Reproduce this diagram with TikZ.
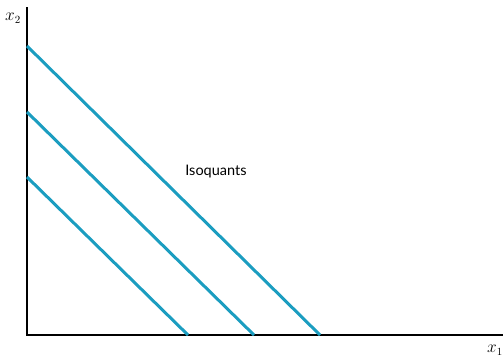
\documentclass[tikz,border=0pt]{standalone}
\usepackage{fontspec}
\setsansfont{Lato}
\usepackage{tikz}
\usetikzlibrary{positioning}
\definecolor{isoBlue}{HTML}{1B9DC0}

\begin{document}
\begin{tikzpicture}[x=1pt,y=-1pt,font=\sffamily]
  \tikzset{axisline/.style={draw=black,line width=1.8pt},
    isoline/.style={draw=isoBlue,line width=3pt},
    axlabel/.style={inner sep=0pt,font=\fontsize{16}{18}\selectfont}}
  \useasboundingbox (0,0) rectangle (503,357);
  % axes
  \coordinate (origin) at (27,335);
  \coordinate (ytop) at (27,7);
  \coordinate (xend) at (504,335);
  \draw[axisline] (ytop) -- (origin) -- (xend);
  \node[axlabel] (xtwo) at (13,18) {$x_2$};
  \node[axlabel] (xone) at (495,350) {$x_1$};
  % isoquants
  \coordinate (a1) at (27,46);  \coordinate (b1) at (320,335);
  \coordinate (a2) at (27,112); \coordinate (b2) at (254,335);
  \coordinate (a3) at (27,177); \coordinate (b3) at (188,335);
  \draw[isoline] (a1) -- (b1);
  \draw[isoline] (a2) -- (b2);
  \draw[isoline] (a3) -- (b3);
  \node[font=\sffamily\fontsize{14.5}{16}\selectfont] (isolabel) at (216,172) {Isoquants};
\end{tikzpicture}
\end{document}
